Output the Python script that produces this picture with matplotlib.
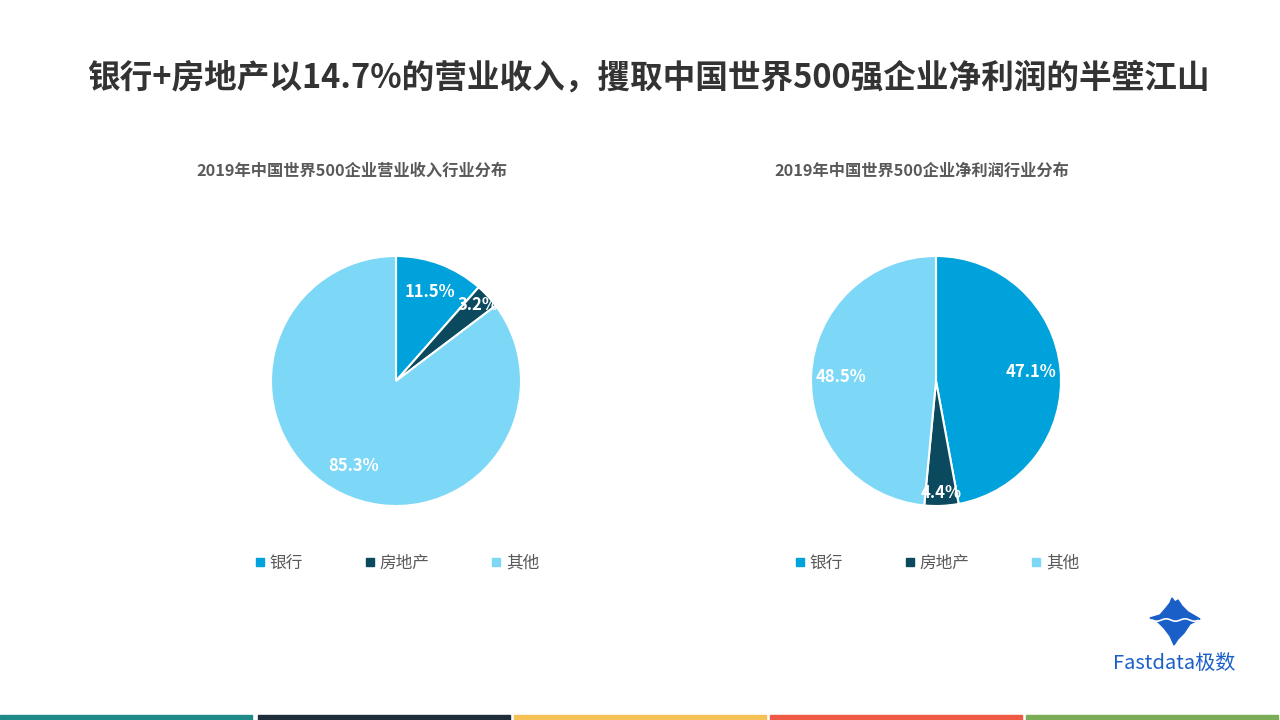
import matplotlib
matplotlib.use("Agg")
import matplotlib.pyplot as plt
from matplotlib.lines import Line2D
from matplotlib.patches import Rectangle, Polygon
import numpy as np

plt.rcParams["font.family"] = ["Noto Sans CJK SC", "DejaVu Sans"]

# 数据
categories = ["银行", "房地产", "其他"]
revenue_share = [11.5, 3.2, 85.3]
profit_share = [47.1, 4.4, 48.5]
colors = ["#00A2DB", "#0B4A5E", "#7DD7F6"]

main_title = "银行+房地产以14.7%的营业收入，攫取中国世界500强企业净利润的半壁江山"
sub_titles = ["2019年中国世界500企业营业收入行业分布", "2019年中国世界500企业净利润行业分布"]
bottom_colors = ["#1F8A87", "#1F2D3A", "#F5C155", "#EF5A45", "#7AAD55"]

W, H = 1280, 720
fig = plt.figure(figsize=(12.8, 7.2), dpi=100)
fig.patch.set_facecolor("white")

fig.text(648 / W, 1 - 78 / H, main_title, ha="center", va="center",
         fontsize=23.5, fontweight="bold", color="#333333")


def draw_pie(cx, cy, r, values, subtitle, sub_cx, leg_cx):
    ax = fig.add_axes([(cx - r) / W, 1 - (cy + r) / H, 2 * r / W, 2 * r / H])
    wedges, texts, autotexts = ax.pie(
        values, colors=colors, startangle=90, counterclock=False,
        autopct="%.1f%%", pctdistance=0.76,
        wedgeprops=dict(edgecolor="white", linewidth=1.5),
        textprops=dict(color="white", fontsize=12, fontweight="bold"),
    )
    # 小扇区标签外移
    for w, t, v in zip(wedges, autotexts, values):
        if v < 6:
            ang = np.deg2rad((w.theta1 + w.theta2) / 2)
            t.set_position((0.9 * np.cos(ang), 0.9 * np.sin(ang)))
    ax.set_xlim(-1, 1)
    ax.set_ylim(-1, 1)
    ax.set_aspect("equal")
    fig.text(sub_cx / W, 1 - 171 / H, subtitle, ha="center", va="center",
             fontsize=11.7, fontweight="bold", color="#595959")
    handles = [Line2D([], [], marker="s", linestyle="none", markersize=6,
                      markerfacecolor=c, markeredgecolor=c) for c in colors]
    fig.legend(handles, categories, loc="center", ncol=3,
               bbox_to_anchor=(leg_cx / W, 1 - 563 / H), frameon=False,
               fontsize=12, labelcolor="#595959", handlelength=0.6,
               handletextpad=0.3, columnspacing=3.7)


draw_pie(396, 381, 125, revenue_share, sub_titles[0], 352, 397)
draw_pie(936, 381, 125, profit_share, sub_titles[1], 922, 937)

# 底部色条
seg_w = W / 5
for i, c in enumerate(bottom_colors):
    fig.patches.append(Rectangle(((i * seg_w + (2 if i else 0)) / W, 0), (seg_w - 4) / W, 5 / H,
                                 transform=fig.transFigure, color=c))

# logo
ice = [(1150, 618), (1160, 615), (1166, 608), (1170, 603), (1172, 598), (1175, 602),
       (1178, 600), (1182, 606), (1188, 612), (1195, 616), (1200, 619), (1190, 624),
       (1184, 633), (1178, 639), (1174, 645), (1170, 636), (1164, 628), (1158, 622)]
fig.patches.append(Polygon([(x / W, 1 - y / H) for x, y in ice], closed=True,
                           transform=fig.transFigure, color="#1A5FC8"))
wave_x = np.linspace(1152, 1198, 40)
wave_y = 620 + 1.2 * np.sin((wave_x - 1152) / 3)
fig.lines.append(Line2D(wave_x / W, 1 - wave_y / H, transform=fig.transFigure,
                        color="white", linewidth=1.2))
fig.text(1174 / W, 1 - 663 / H, "Fastdata极数", ha="center", va="center",
         fontsize=14.5, color="#1A5FC8")

fig.savefig("out.png", dpi=100, facecolor="white")
